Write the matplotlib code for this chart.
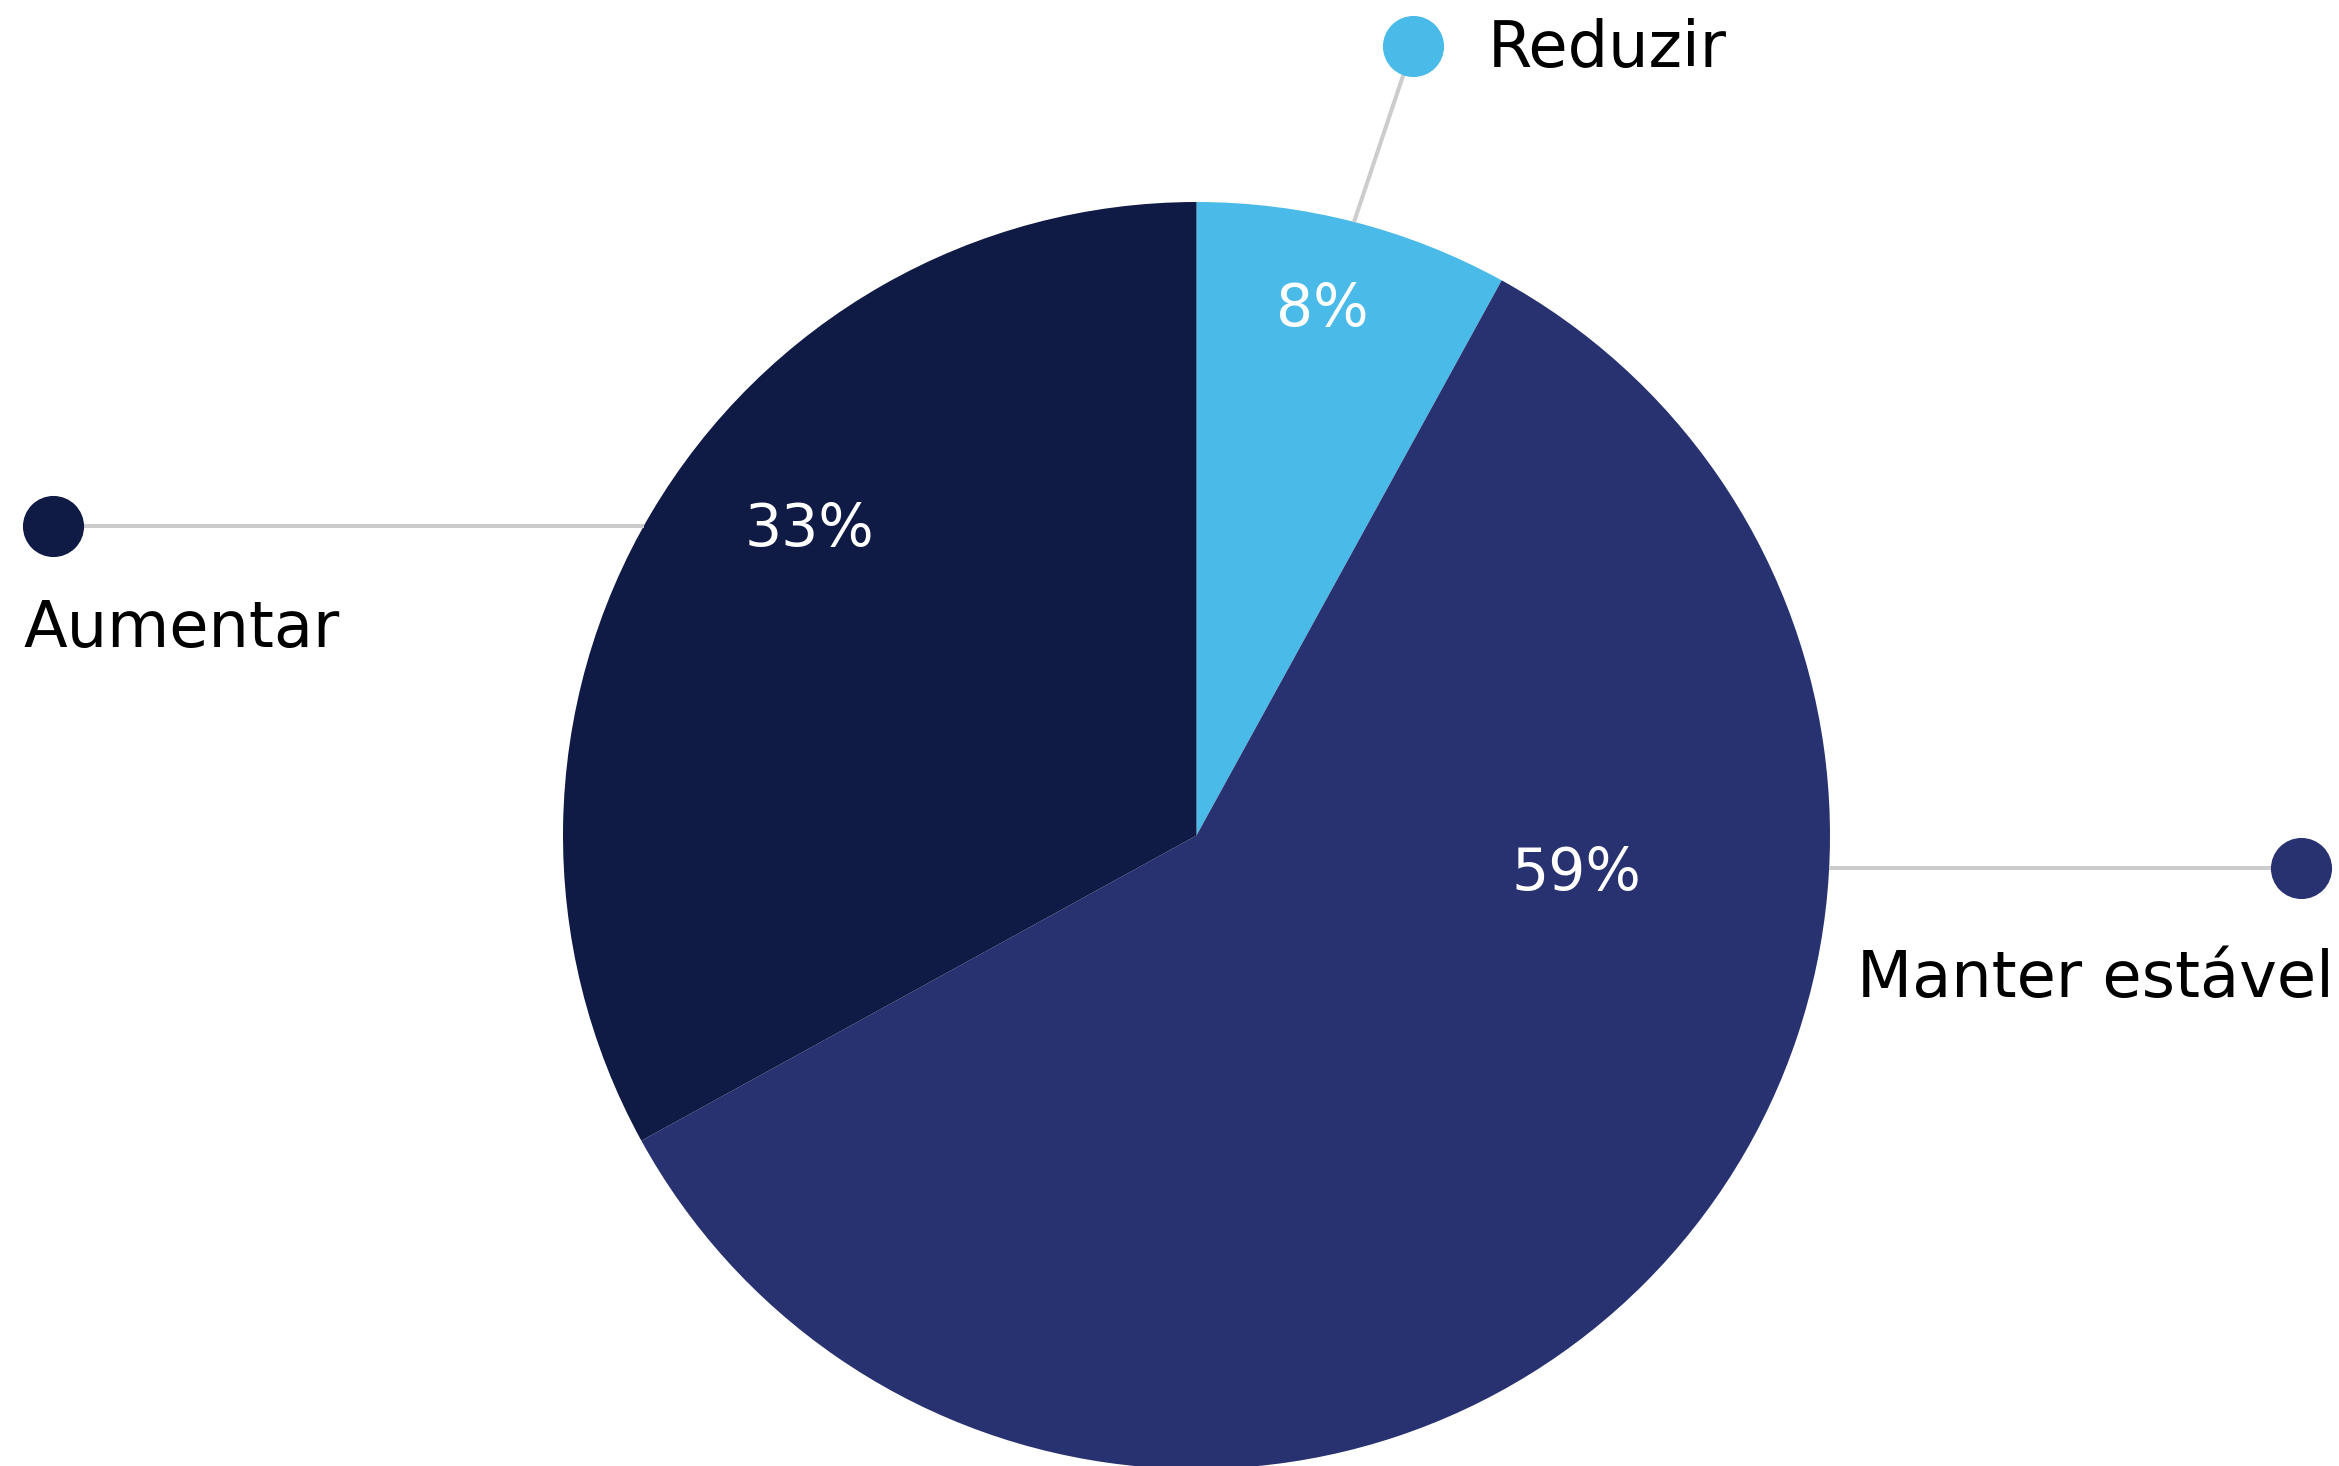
import numpy as np
import matplotlib
matplotlib.use("Agg")
import matplotlib.pyplot as plt

# ---- data ----
categories = ["Reduzir", "Manter estável", "Aumentar"]
values = [8, 59, 33]
pct_labels = ["8%", "59%", "33%"]
colors = ["#4ABBE9", "#283270", "#0F1A45"]

# ---- layout (pixel space, y measured from bottom) ----
W, H = 2339, 1466
cx, cy, R = 1196.5, 630.5, 633.5
line_color = "#CCCCCC"
font = "DejaVu Sans"
lab_fs = 46

fig = plt.figure(figsize=(W / 100, H / 100), dpi=100)
ax = fig.add_axes([0, 0, 1, 1])
ax.pie(values, colors=colors, startangle=90, counterclock=False,
       center=(cx, cy), radius=R, wedgeprops=dict(linewidth=0))
ax.set_xlim(0, W)
ax.set_ylim(0, H)
ax.set_aspect("auto")
ax.axis("off")

# percentage labels
pct_pos = [(1322, 1140), (1576, 576), (809, 920)]
for lab, (x, y) in zip(pct_labels, pct_pos):
    ax.text(x, y, lab, color="white", fontsize=42, ha="center", va="baseline", family=font)

# Reduzir leader (radial)
mid = np.deg2rad(90 - values[0] / sum(values) * 360 / 2)
ex, ey = cx + R * np.cos(mid), cy + R * np.sin(mid)
dot_r = (1413, 1420)
ax.plot([ex, dot_r[0]], [ey, dot_r[1]], color=line_color, lw=2.9, zorder=1, solid_capstyle="butt")
ax.plot(*dot_r, "o", ms=44, color=colors[0], mew=0, zorder=3)
ax.text(1488, 1399, categories[0], fontsize=lab_fs, ha="left", va="baseline", family=font)

# Aumentar leader (horizontal, left)
ya = 940
xa = cx - np.sqrt(R ** 2 - (ya - cy) ** 2)
dot_a = (53, ya)
ax.plot([dot_a[0], xa], [ya, ya], color=line_color, lw=2.9, zorder=1, solid_capstyle="butt")
ax.plot(*dot_a, "o", ms=44, color=colors[2], mew=0, zorder=3)
ax.text(23, 819, categories[2], fontsize=lab_fs, ha="left", va="baseline", family=font)

# Manter estável leader (horizontal, right)
ym = 598
xm = cx + np.sqrt(R ** 2 - (ym - cy) ** 2)
dot_m = (2301, ym)
ax.plot([xm, dot_m[0]], [ym, ym], color=line_color, lw=2.9, zorder=1, solid_capstyle="butt")
ax.plot(*dot_m, "o", ms=44, color=colors[1], mew=0, zorder=3)
ax.text(1857, 469, categories[1], fontsize=lab_fs, ha="left", va="baseline", family=font)

fig.savefig("out.png", dpi=100, facecolor="white")
